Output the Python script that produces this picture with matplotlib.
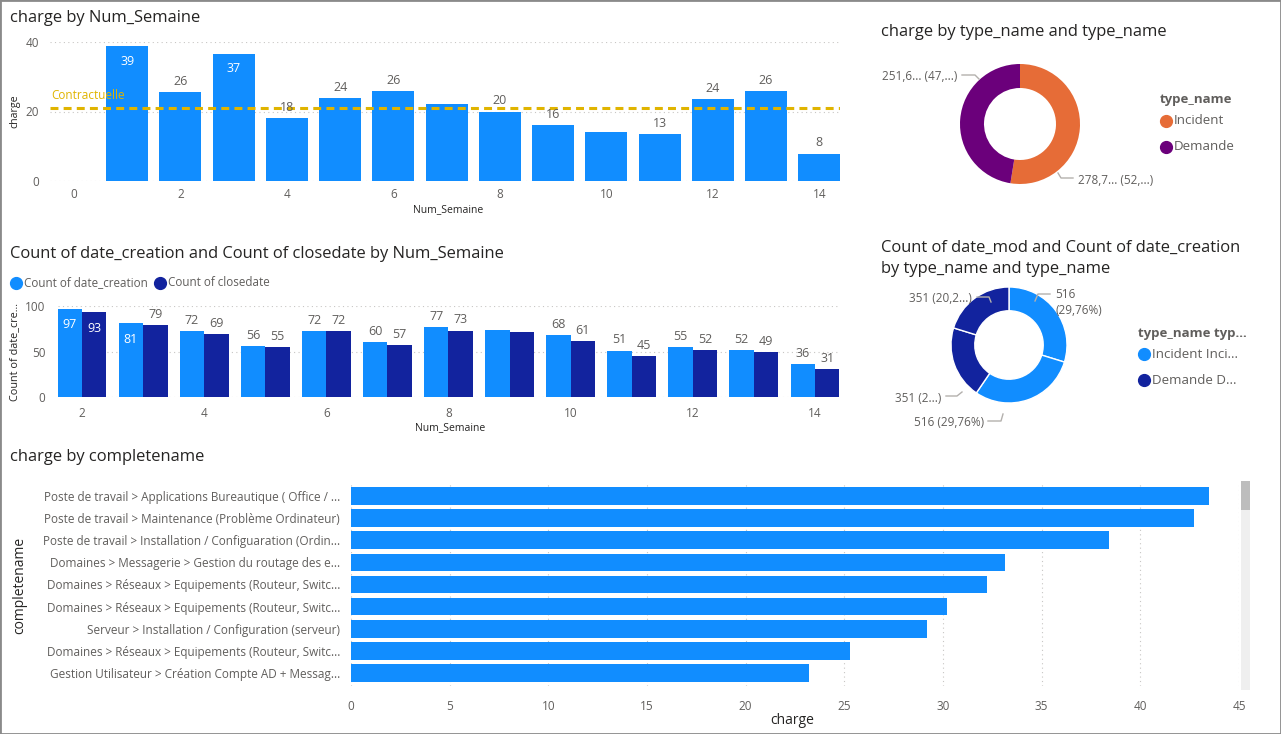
import matplotlib.pyplot as plt
import numpy as np
from matplotlib.patches import Rectangle
from matplotlib.lines import Line2D

# ---- data ----
weeks = list(range(1, 15))
charge_week = [38.8, 25.6, 36.6, 18.1, 23.8, 25.8, 22.2, 20.0, 16.0, 14.1, 13.4, 23.6, 25.9, 7.9]
contract = 21.1
no_label_top = [7, 10]

weeks2 = list(range(2, 15))
count_creation = [97, 81, 72, 56, 72, 60, 77, 74, 68, 51, 55, 52, 36]
count_close = [93, 79, 69, 55, 72, 57, 73, 71, 61, 45, 52, 49, 31]
no_label_mid = [9]

types = ['Incident', 'Demande']
charge_type = [278.7, 251.6]
charge_type_labels = ['278,7... (52,...)', '251,6... (47,...)']

donut2_vals = [516, 516, 351, 351]

categories = [
    'Poste de travail > Applications Bureautique ( Office / ...',
    'Poste de travail > Maintenance (Problème Ordinateur)',
    'Poste de travail > Installation / Configuaration (Ordin...',
    'Domaines > Messagerie > Gestion du routage des e...',
    'Domaines > Réseaux > Equipements (Routeur, Switc...',
    'Domaines > Réseaux > Equipements (Routeur, Switc...',
    'Serveur > Installation / Configuration (serveur)',
    'Domaines > Réseaux > Equipements (Routeur, Switc...',
    'Gestion Utilisateur > Création Compte AD + Messag...',
]
charge_cat = [43.5, 42.7, 38.4, 33.15, 32.25, 30.2, 29.2, 25.3, 23.2]

BLUE = '#118DFF'
DARK = '#12239E'
ORANGE = '#E66C37'
PURPLE = '#6B007B'
GOLD = '#E0B400'
GRAY = '#605E5C'
TITLE = '#252423'
GRID = '#C8C6C4'

plt.rcParams['font.family'] = ['Open Sans', 'DejaVu Sans']

W, H = 1281, 734
fig = plt.figure(figsize=(W / 100, H / 100), dpi=100)


def px_axes(l, t, r, b):
    return fig.add_axes([l / W, 1 - b / H, (r - l) / W, (b - t) / H])


def ftext(x, y, s, **kw):
    kw.setdefault('va', 'center')
    fig.text(x / W, 1 - y / H, s, **kw)


def fline(xs, ys, color='#B3B0AD'):
    fig.add_artist(Line2D([x / W for x in xs], [1 - y / H for y in ys],
                          transform=fig.transFigure, color=color, lw=1))


def fdot(x, y, color):
    fig.add_artist(Line2D([x / W], [1 - y / H], transform=fig.transFigure,
                          marker='o', ms=8.5, color=color, mec=color))


def style_axes(ax, axis='y'):
    for s in ax.spines.values():
        s.set_visible(False)
    ax.tick_params(length=0, labelsize=8.5, colors=GRAY)
    if axis == 'y':
        ax.yaxis.grid(True, ls=(0, (1, 3)), color=GRID, lw=0.8)
    else:
        ax.xaxis.grid(True, ls=(0, (1, 3)), color=GRID, lw=0.8)
    ax.set_axisbelow(True)


TSIZE = 11.9

# ---- chart 1: charge by Num_Semaine ----
ftext(10, 18, 'charge by Num_Semaine', fontsize=TSIZE, color=TITLE)
ax1 = px_axes(50, 42, 840, 181)
ax1.bar(weeks, charge_week, width=0.79, color=BLUE)
ax1.set_xlim(-0.45, 14.39)
ax1.set_ylim(0, 40)
ax1.set_xticks(range(0, 15, 2))
ax1.set_yticks([0, 20, 40])
style_axes(ax1)
ax1.tick_params(axis='x', pad=5)
ax1.tick_params(axis='y', pad=8)
ax1.axhline(contract, color=GOLD, ls=(0, (2.6, 1.7)), lw=2.2, zorder=3)
ax1.text(-0.42, contract + 1.6, 'Contractuelle', color=GOLD, fontsize=8.5, va='bottom')
for w, v in zip(weeks, charge_week):
    if w in no_label_top:
        continue
    if v > 30:
        ax1.annotate(str(round(v)), (w, v), xytext=(0, -6), textcoords='offset points',
                     ha='center', va='top', color='white', fontsize=9)
    else:
        ax1.annotate(str(round(v)), (w, v), xytext=(0, 3), textcoords='offset points',
                     ha='center', va='bottom', color=GRAY, fontsize=9)
ftext(15, 111, 'charge', rotation=90, ha='center', fontsize=7.7, color=TITLE)
ftext(448, 210, 'Num_Semaine', ha='center', fontsize=7.5, color=TITLE)

# ---- chart 2: counts by Num_Semaine ----
ftext(10, 254, 'Count of date_creation and Count of closedate by Num_Semaine',
      fontsize=TSIZE, color=TITLE)
fdot(16, 283, BLUE)
ftext(24, 283, 'Count of date_creation', fontsize=8.4, color=GRAY)
fdot(160, 283, DARK)
ftext(168, 283, 'Count of closedate', fontsize=8.4, color=GRAY)

ax2 = px_axes(58, 306, 840, 397)
x2 = np.array(weeks2)
ax2.bar(x2 - 0.2, count_creation, width=0.4, color=BLUE)
ax2.bar(x2 + 0.2, count_close, width=0.4, color=DARK)
ax2.set_xlim(1.607, 14.41)
ax2.set_ylim(0, 100)
ax2.set_xticks(range(2, 15, 2))
ax2.set_yticks([0, 50, 100])
style_axes(ax2)
ax2.tick_params(axis='x', pad=7)
ax2.tick_params(axis='y', pad=9)
for series, off in [(count_creation, -0.2), (count_close, 0.2)]:
    for w, v in zip(weeks2, series):
        if w in no_label_mid:
            continue
        if v > 80:
            ax2.annotate(str(v), (w + off, v), xytext=(0, -7), textcoords='offset points',
                         ha='center', va='top', color='white', fontsize=9)
        else:
            ax2.annotate(str(v), (w + off, v), xytext=(0, 3), textcoords='offset points',
                         ha='center', va='bottom', color=GRAY, fontsize=9)
ftext(15, 352, 'Count of date_cre...', rotation=90, ha='center', fontsize=7.8, color=TITLE)
ftext(450, 428, 'Num_Semaine', ha='center', fontsize=7.5, color=TITLE)

# ---- donut 1 ----
ftext(881, 32, 'charge by type_name and type_name', fontsize=TSIZE, color=TITLE)
ax3 = px_axes(960, 64, 1080, 184)
ax3.pie(charge_type, colors=[ORANGE, PURPLE], startangle=90, counterclock=False,
        radius=1, wedgeprops=dict(width=0.4, linewidth=0))
ax3.set_xlim(-1, 1)
ax3.set_ylim(-1, 1)
ax3.set_aspect('equal')
ax3.axis('off')
ftext(957, 77, charge_type_labels[1], ha='right', fontsize=8.5, color=GRAY)
fline([962, 975, 979], [75, 75, 79])
ftext(1078, 181, charge_type_labels[0], ha='left', fontsize=8.5, color=GRAY)
fline([1073, 1061, 1058], [178, 178, 173])
ftext(1160, 100, 'type_name', fontsize=9.5, color=GRAY, fontweight='bold')
fdot(1166, 121, ORANGE)
ftext(1174, 121, types[0], fontsize=9.6, color=GRAY)
fdot(1166, 147, PURPLE)
ftext(1174, 147, types[1], fontsize=9.6, color=GRAY)

# ---- donut 2 ----
ftext(881, 248, 'Count of date_mod and Count of date_creation', fontsize=TSIZE, color=TITLE)
ftext(881, 269, 'by type_name and type_name', fontsize=TSIZE, color=TITLE)
ax4 = px_axes(951, 287, 1067, 403)
ax4.pie(donut2_vals, colors=[BLUE, BLUE, DARK, DARK], startangle=90, counterclock=False,
        radius=1, wedgeprops=dict(width=0.41, linewidth=1, edgecolor='white'))
ax4.set_xlim(-1, 1)
ax4.set_ylim(-1, 1)
ax4.set_aspect('equal')
ax4.axis('off')
tot = sum(donut2_vals)
pct = [f'{v} ({100 * v / tot:.2f}%)'.replace('.', ',') for v in donut2_vals]
ftext(1055, 295, str(donut2_vals[0]), ha='left', fontsize=8.5, color=GRAY)
ftext(1055, 311, pct[0][4:], ha='left', fontsize=8.5, color=GRAY)
fline([1050, 1038, 1035], [294, 294, 301])
ftext(984, 423, pct[1], ha='right', fontsize=8.5, color=GRAY)
fline([988, 1001, 1003], [421, 421, 414])
ftext(941, 399, f'{donut2_vals[2]} (2...)', ha='right', fontsize=8.5, color=GRAY)
fline([946, 957, 962], [396, 396, 392])
ftext(972, 299, f'{donut2_vals[3]} (20,2...)', ha='right', fontsize=8.5, color=GRAY)
fline([977, 989, 991], [297, 297, 302])
ftext(1138, 334, 'type_name typ...', fontsize=9.5, color=GRAY, fontweight='bold')
fdot(1144, 354, BLUE)
ftext(1152, 354, 'Incident Inci...', fontsize=9.6, color=GRAY)
fdot(1144, 380, DARK)
ftext(1152, 380, 'Demande D...', fontsize=9.6, color=GRAY)

# ---- chart 5: charge by completename ----
ftext(10, 457, 'charge by completename', fontsize=TSIZE, color=TITLE)
ax5 = px_axes(351, 483, 1239, 686)
y5 = np.arange(len(categories))
ax5.barh(y5, charge_cat, height=0.8, color=BLUE)
ax5.set_xlim(0, 45)
ax5.set_ylim(8.59, -0.59)
ax5.set_xticks(range(0, 46, 5))
ax5.set_yticks(y5)
ax5.set_yticklabels(categories, fontsize=8.4)
style_axes(ax5, axis='x')
ax5.tick_params(axis='x', pad=10)
ax5.tick_params(axis='y', pad=8)
ftext(792, 721, 'charge', ha='center', fontsize=10, color=TITLE)
ftext(20, 585, 'completename', rotation=90, ha='center', fontsize=10, color=TITLE)

# scrollbar
fig.add_artist(Rectangle((1241 / W, 1 - 690 / H), 9 / W, 209 / H, transform=fig.transFigure,
                         color='#EFEFEF', lw=0))
fig.add_artist(Rectangle((1241 / W, 1 - 510 / H), 9 / W, 29 / H, transform=fig.transFigure,
                         color='#BDBDBD', lw=0))

# frame
fig.add_artist(Rectangle((0, 0), 1, 1, transform=fig.transFigure, fill=False,
                         edgecolor='#8A8A8A', lw=2))

fig.savefig('out.png', dpi=100)
